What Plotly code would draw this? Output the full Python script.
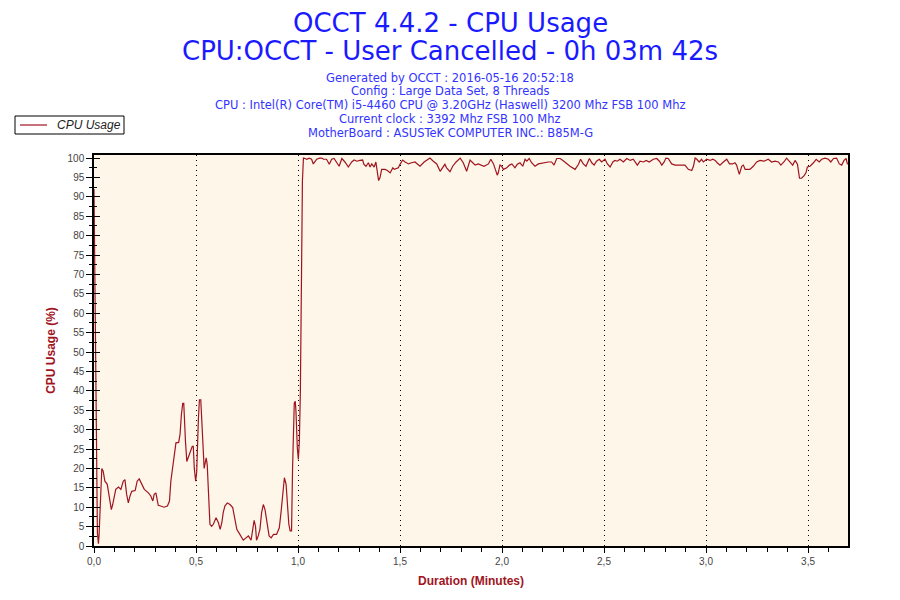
import plotly.graph_objs as go

# CPU usage samples (time in seconds, usage in %)
secs = [0.0, 0.8, 1.0, 1.3, 1.5, 1.8, 2.0, 2.3, 2.7, 3.2, 3.9, 4.3, 4.7, 5.1, 5.5, 5.9,
        6.4, 7.2, 7.9, 8.6, 9.1, 9.6, 10.1, 10.6, 11.1, 12.1, 12.7, 13.3, 14.0, 14.8,
        16.0, 16.7, 17.3, 17.7, 18.2, 18.9, 19.6, 20.6, 21.6, 22.2, 22.6, 23.3, 24.1,
        24.9, 25.3, 25.7, 26.1, 26.4, 26.6, 26.9, 27.3, 27.7, 28.4, 28.9, 29.2, 29.5,
        29.9, 30.2, 30.7, 31.0, 31.4, 31.7, 32.0, 32.4, 32.7, 33.0, 33.3, 33.5, 33.8,
        34.1, 34.6, 35.1, 35.9, 36.6, 37.1, 37.6, 38.0, 38.5, 39.2, 40.0, 40.8, 41.5,
        42.0, 42.9, 43.9, 44.7, 45.4, 46.2, 46.7, 47.1, 47.5, 47.8, 48.3, 48.8, 49.3,
        49.8, 50.3, 50.8, 51.5, 52.1, 52.8, 53.7, 54.5, 55.0, 55.5, 56.0, 56.5, 56.9,
        57.3, 57.7, 58.1, 58.4, 58.9, 59.2, 59.4, 59.8, 60.1, 60.4, 60.7, 61.3, 61.6,
        62.1, 62.6, 63.3, 64.0, 64.5, 65.0, 65.5, 66.3, 67.0, 67.5, 68.4, 69.2, 69.9,
        70.6, 71.4, 72.1, 72.9, 73.8, 74.8, 75.8, 76.5, 77.3, 78.2, 79.0, 79.4, 80.0,
        80.7, 81.2, 81.7, 82.4, 82.9, 83.3, 83.7, 84.1, 84.6, 85.6, 86.3, 87.1, 87.9,
        88.3, 88.8, 89.5, 90.0, 90.8, 91.5, 92.5, 93.4, 94.4, 95.1, 95.9, 97.1, 98.8,
        99.8, 100.8, 101.8, 102.8, 103.2, 103.7, 104.7, 105.5, 106.5, 107.7, 108.6,
        109.6, 110.6, 111.4, 112.1, 113.0, 114.0, 114.7, 116.0, 116.7, 117.5, 118.0,
        118.6, 118.9, 119.4, 119.9, 120.4, 121.4, 122.2, 122.9, 123.8, 124.5, 125.3,
        126.1, 126.8, 127.3, 128.0, 128.7, 129.7, 130.7, 132.2, 133.6, 134.6, 135.3,
        136.1, 137.1, 138.2, 139.0, 140.0, 141.5, 142.5, 143.1, 143.9, 144.7, 145.7,
        146.4, 147.1, 147.8, 148.6, 149.3, 150.3, 151.0, 151.8, 152.6, 153.2, 153.9,
        154.7, 155.7, 156.7, 157.7, 158.6, 159.8, 160.6, 161.6, 162.4, 163.3, 164.5,
        165.5, 166.3, 167.0, 167.7, 168.2, 168.9, 169.9, 170.9, 173.3, 173.8, 174.8,
        175.8, 176.3, 176.8, 177.3, 178.0, 178.7, 179.2, 180.2, 181.2, 182.0, 182.7,
        183.3, 184.1, 185.1, 186.1, 186.9, 187.8, 188.5, 189.0, 189.8, 190.5, 191.0,
        191.5, 192.0, 192.9, 193.9, 194.9, 195.9, 197.1, 198.3, 199.3, 200.3, 201.3,
        202.0, 202.9, 203.7, 204.7, 205.5, 206.2, 206.9, 207.5, 208.1, 208.8, 209.4,
        209.8, 210.6, 211.6, 212.4, 213.3, 214.0, 215.0, 216.0, 216.7, 217.5, 218.4,
        219.2, 219.9, 220.6, 221.2, 221.6]
usage = [92.0, 31.0, 3.4, 0.6, 3.0, 9.4, 16.7, 20.0, 19.3, 16.7, 15.9, 14.0, 12.0, 9.4,
         10.7, 12.4, 14.6, 15.2, 14.6, 16.7, 17.1, 13.3, 11.1, 12.9, 14.1, 14.3, 16.7,
         17.3, 15.9, 14.6, 13.7, 12.9, 11.6, 13.3, 13.7, 10.5, 10.3, 10.0, 10.3, 11.6,
         16.7, 21.4, 26.6, 26.7, 28.7, 33.8, 36.8, 36.8, 32.0, 27.0, 21.8, 22.7, 24.8,
         25.7, 25.7, 20.0, 16.7, 19.0, 32.6, 37.7, 37.7, 32.6, 26.0, 20.0, 21.4, 22.7,
         21.0, 15.9, 11.1, 5.6, 5.1, 5.6, 7.3, 6.0, 4.3, 6.0, 8.6, 10.3, 11.1, 10.7,
         9.9, 6.4, 4.3, 3.0, 1.5, 2.1, 2.6, 1.5, 3.9, 6.6, 5.1, 1.5, 2.6, 4.3, 8.6,
         10.7, 9.4, 6.0, 2.6, 2.1, 3.0, 3.0, 4.7, 8.6, 12.4, 17.6, 15.9, 9.9, 5.6, 3.9,
         3.9, 20.0, 36.8, 37.3, 34.7, 25.3, 22.3, 27.0, 40.0, 94.1, 100.0,
         99.9, 99.7, 100.0, 99.7, 98.5, 99.2, 99.7, 100.0, 100.0, 99.7, 99.7, 98.4,
         99.7, 99.9, 99.0, 97.9, 99.9, 99.0, 97.7, 99.0, 99.5, 99.2, 99.4, 99.5, 98.4,
         97.9, 98.8, 97.7, 98.5, 97.7, 99.0, 96.2, 94.2, 94.9, 97.1, 97.1, 96.8, 96.2,
         97.5, 97.1, 97.3, 97.5, 98.4, 99.5, 99.0, 98.5, 98.8, 99.0, 98.5, 97.9, 99.0,
         100.0, 99.2, 98.5, 96.6, 97.9, 98.4, 97.5, 96.5, 97.9, 99.0, 100.0, 98.8,
         96.6, 99.5, 98.8, 98.2, 98.5, 98.2, 97.9, 98.5, 99.7, 98.5, 97.1, 95.6, 96.2,
         98.2, 97.9, 97.1, 97.5, 98.2, 98.5, 97.5, 98.4, 98.8, 97.9, 99.7, 99.2, 99.9,
         98.8, 97.9, 98.5, 98.8, 99.0, 99.0, 98.2, 99.9, 99.9, 99.2, 98.5, 97.9, 97.1,
         98.4, 99.7, 98.5, 97.9, 99.9, 98.8, 98.2, 99.2, 99.7, 99.0, 99.7, 98.5, 97.7,
         99.0, 99.4, 99.2, 99.7, 99.0, 99.9, 99.4, 99.7, 98.2, 99.2, 99.0, 99.4, 99.0,
         99.7, 99.9, 99.2, 98.2, 99.0, 100.0, 99.9, 98.5, 98.2, 98.2, 98.2, 97.1, 96.8,
         97.9, 100.0, 99.7, 99.0, 99.7, 99.0, 99.7, 99.4, 99.7, 99.4, 98.8, 98.2, 99.0,
         99.7, 98.5, 98.5, 98.8, 98.2, 95.8, 97.9, 98.2, 97.1, 97.1, 97.1, 97.9, 99.0,
         99.4, 99.2, 99.7, 99.0, 99.2, 99.0, 98.2, 99.0, 100.0, 99.0, 98.2, 99.4, 98.4,
         94.8, 94.8, 95.4, 96.2, 97.7, 97.9, 98.8, 99.7, 99.0, 99.7, 100.0, 99.7, 99.0,
         99.9, 100.0, 98.5, 98.2, 99.4, 99.9, 98.4]

x_ticks = [0, 0.5, 1.0, 1.5, 2.0, 2.5, 3.0, 3.5]
x_labels = ["0,0", "0,5", "1,0", "1,5", "2,0", "2,5", "3,0", "3,5"]

title_lines = ["OCCT 4.4.2 - CPU Usage", "CPU:OCCT - User Cancelled - 0h 03m 42s"]
info_lines = ["Generated by OCCT : 2016-05-16 20:52:18",
              "Config : Large Data Set, 8 Threads",
              "CPU : Intel(R) Core(TM) i5-4460 CPU @ 3.20GHz (Haswell) 3200 Mhz FSB 100 Mhz",
              "Current clock : 3392 Mhz FSB 100 Mhz",
              "MotherBoard : ASUSTeK COMPUTER INC.: B85M-G"]
series_name = "CPU Usage"

minutes = [s / 60 for s in secs]
red = "#A0141E"
font = "Liberation Sans"
head_font = "DejaVu Sans"

# page has a small body margin, plot area wanted at x 94..848, y 153..544 on the page
L, T, W, H = 86, 147, 754, 391


def py(page_y):
    return (544 - page_y) / H


def px(page_x):
    return (page_x - 94) / W


fig = go.Figure()
fig.add_trace(go.Scatter(x=minutes, y=usage, mode="lines", name=series_name,
                         line=dict(color=red, width=1.2), showlegend=False))
# dummy trace so the inside-tick overlay axis gets drawn
fig.add_trace(go.Scatter(x=[0], y=[0], yaxis="y2", mode="lines", showlegend=False,
                         hoverinfo="skip", line=dict(width=0)))

fig.update_layout(
    width=900, height=600,
    margin=dict(l=L, r=900 - L - W, t=T, b=600 - T - H),
    paper_bgcolor="white",
    plot_bgcolor="#FDF6E9",
    font=dict(family=font, size=10, color="#444"),
)

for txt, y0 in zip(title_lines, [20.5, 49]):
    fig.add_annotation(text=txt, x=px(450), y=py(y0), xref="paper", yref="paper",
                       xanchor="center", yanchor="middle", showarrow=False,
                       font=dict(family=head_font, size=26, color="#1A1AFF"))
for i, txt in enumerate(info_lines):
    fig.add_annotation(text=txt, x=px(450), y=py(75.5 + i * 13.8), xref="paper",
                       yref="paper", xanchor="center", yanchor="middle", showarrow=False,
                       font=dict(family=head_font, size=11.5, color="#3333FF"))

# legend box drawn by hand, it is smaller than plotly's own one
fig.add_shape(type="rect", xref="paper", yref="paper",
              x0=px(15), x1=px(124), y0=py(132), y1=py(114),
              line=dict(color="black", width=1), fillcolor="white")
fig.add_shape(type="line", xref="paper", yref="paper",
              x0=px(20), x1=px(47), y0=py(123), y1=py(123),
              line=dict(color=red, width=1.2))
fig.add_annotation(text="<i>" + series_name + "</i>", x=px(55), y=py(123),
                   xref="paper", yref="paper", xanchor="left", yanchor="middle",
                   showarrow=False, font=dict(family=font, size=12, color="#222"))

fig.update_xaxes(
    range=[0, 3.696], tickvals=x_ticks, ticktext=x_labels,
    showline=True, linecolor="black", linewidth=1.5, mirror=True,
    ticks="outside", ticklen=5, tickcolor="black",
    minor=dict(dtick=0.1, ticks="outside", ticklen=4, tickcolor="black", showgrid=False),
    showgrid=True, gridcolor="black", griddash="1px,4px", gridwidth=1,
    zeroline=False, tickfont=dict(size=10, color="#444"),
    title=dict(text="<b>Duration (Minutes)</b>", standoff=11,
               font=dict(family=font, size=12, color=red)),
)
fig.update_layout(
    yaxis=dict(
        range=[0, 100.8], tickmode="linear", tick0=0, dtick=5,
        showline=True, linecolor="black", linewidth=1.5, mirror=True,
        ticks="outside", ticklen=6, tickcolor="black",
        minor=dict(dtick=2.5, ticks="outside", ticklen=3, tickcolor="black"),
        showgrid=False, zeroline=False, tickfont=dict(size=10, color="#444"),
        title=dict(text="<b>CPU Usage (%)</b>", standoff=9,
                   font=dict(family=font, size=12, color=red)),
    ),
    yaxis2=dict(
        range=[0, 100.8], overlaying="y", side="left", anchor="x",
        tickmode="linear", tick0=0, dtick=5, showticklabels=False,
        ticks="inside", ticklen=6, tickcolor="black",
        minor=dict(dtick=2.5, ticks="inside", ticklen=3, tickcolor="black"),
        showgrid=False, zeroline=False, showline=False,
    ),
)

fig.write_html("out.html")
